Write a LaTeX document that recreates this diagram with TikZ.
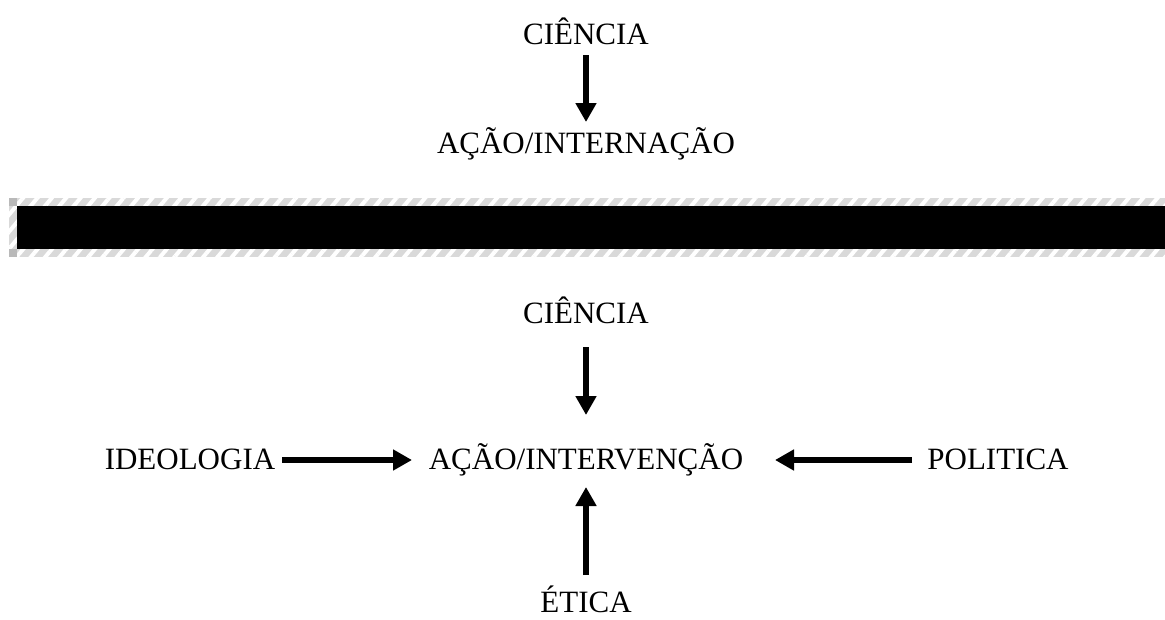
\documentclass[tikz,border=0pt]{standalone}
\usepackage{fontspec}
\setmainfont{Liberation Serif}
\usetikzlibrary{arrows.meta,patterns.meta}
\begin{document}
\begin{tikzpicture}[x=1pt,y=-1pt,
  lbl/.style={anchor=base,inner sep=0pt,font=\fontsize{31}{36}\selectfont},
  arr/.style={line width=6pt,-{Triangle[width=20pt,length=19pt]}}]
\useasboundingbox (0,0) rectangle (1165,619);
% top
\node[lbl] (c1) at (586,44) {CIÊNCIA};
\node[lbl] (a1) at (586,153) {AÇÃO/INTERNAÇÃO};
\coordinate (c1s) at (586,55);
\coordinate (a1e) at (586,122);
\draw[arr] (c1s) -- (a1e);
% bar
\fill[gray!30] (9,198) rectangle (1165,257);
\fill[pattern={Lines[angle=50,distance=11pt,line width=4pt]},pattern color=white] (9,198) rectangle (1165,257);
\fill[gray!55] (9,198) rectangle (17,206);
\fill[gray!55] (9,249) rectangle (17,257);
\fill[black] (17,206) rectangle (1165,249);
% bottom
\node[lbl] (c2) at (586,323) {CIÊNCIA};
\node[lbl] (a2) at (586,469) {AÇÃO/INTERVENÇÃO};
\node[lbl] (id) at (190,469) {IDEOLOGIA};
\node[lbl] (po) at (998,469) {POLITICA};
\node[lbl] (et) at (586,612) {ÉTICA};
\coordinate (c2s) at (586,347);
\coordinate (c2e) at (586,415);
\draw[arr] (c2s) -- (c2e);
\coordinate (ids) at (282,460);
\coordinate (ide) at (412,460);
\draw[arr] (ids) -- (ide);
\coordinate (pos) at (912,460);
\coordinate (poe) at (775,460);
\draw[arr] (pos) -- (poe);
\coordinate (ets) at (586,575);
\coordinate (ete) at (586,487);
\draw[arr] (ets) -- (ete);
\end{tikzpicture}
\end{document}
